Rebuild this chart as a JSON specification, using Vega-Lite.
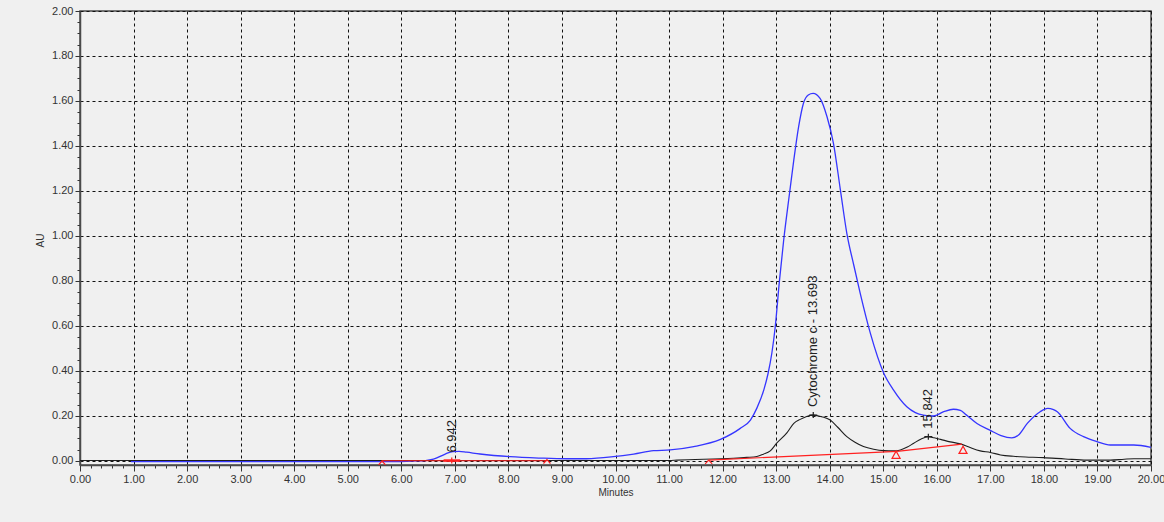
{
  "$schema": "https://vega.github.io/schema/vega-lite/v6.json",
  "width": 1071,
  "height": 454,
  "autosize": {"type": "none"},
  "padding": {"left": 80, "top": 11, "right": 13, "bottom": 57},
  "background": "#f0f0f0",
  "config": {
    "view": {"fill": "#f0f0f0", "stroke": "#4a4a4a", "strokeWidth": 1.5},
    "font": "Liberation Sans",
    "axis": {
      "labelFont": "Liberation Sans",
      "titleFont": "Liberation Sans",
      "labelColor": "#333333",
      "titleColor": "#333333",
      "titleFontWeight": "normal",
      "domainColor": "#4a4a4a",
      "domainWidth": 1.5,
      "tickColor": "#333333",
      "tickWidth": 1,
      "gridColor": "#111111",
      "gridDash": [3, 3],
      "gridWidth": 1
    }
  },
  "datasets": {
    "traces": [
      {"channel": "A", "t": 0.95, "au": -0.003},
      {"channel": "A", "t": 5.9, "au": -0.003},
      {"channel": "A", "t": 6.2, "au": 0.0},
      {"channel": "A", "t": 6.45, "au": 0.002},
      {"channel": "A", "t": 6.6, "au": 0.008},
      {"channel": "A", "t": 6.82, "au": 0.031},
      {"channel": "A", "t": 6.96, "au": 0.042},
      {"channel": "A", "t": 7.08, "au": 0.043},
      {"channel": "A", "t": 7.22, "au": 0.039},
      {"channel": "A", "t": 7.47, "au": 0.031},
      {"channel": "A", "t": 8.03, "au": 0.019},
      {"channel": "A", "t": 8.59, "au": 0.013},
      {"channel": "A", "t": 9.09, "au": 0.010},
      {"channel": "A", "t": 9.46, "au": 0.010},
      {"channel": "A", "t": 9.96, "au": 0.019},
      {"channel": "A", "t": 10.34, "au": 0.031},
      {"channel": "A", "t": 10.71, "au": 0.046},
      {"channel": "A", "t": 11.02, "au": 0.049},
      {"channel": "A", "t": 11.46, "au": 0.064},
      {"channel": "A", "t": 11.96, "au": 0.096},
      {"channel": "A", "t": 12.33, "au": 0.145},
      {"channel": "A", "t": 12.52, "au": 0.182},
      {"channel": "A", "t": 12.64, "au": 0.235},
      {"channel": "A", "t": 12.77, "au": 0.316},
      {"channel": "A", "t": 12.85, "au": 0.39},
      {"channel": "A", "t": 12.92, "au": 0.48},
      {"channel": "A", "t": 12.98, "au": 0.59},
      {"channel": "A", "t": 13.06, "au": 0.797},
      {"channel": "A", "t": 13.14, "au": 0.98},
      {"channel": "A", "t": 13.25, "au": 1.19},
      {"channel": "A", "t": 13.33, "au": 1.338},
      {"channel": "A", "t": 13.42, "au": 1.486},
      {"channel": "A", "t": 13.51, "au": 1.59},
      {"channel": "A", "t": 13.6, "au": 1.627},
      {"channel": "A", "t": 13.69, "au": 1.634},
      {"channel": "A", "t": 13.82, "au": 1.612},
      {"channel": "A", "t": 13.95, "au": 1.53},
      {"channel": "A", "t": 14.07, "au": 1.412},
      {"channel": "A", "t": 14.2, "au": 1.204},
      {"channel": "A", "t": 14.32, "au": 1.012},
      {"channel": "A", "t": 14.45, "au": 0.87},
      {"channel": "A", "t": 14.57, "au": 0.745},
      {"channel": "A", "t": 14.76, "au": 0.567},
      {"channel": "A", "t": 15.01, "au": 0.39},
      {"channel": "A", "t": 15.19, "au": 0.316},
      {"channel": "A", "t": 15.44, "au": 0.241},
      {"channel": "A", "t": 15.6, "au": 0.215},
      {"channel": "A", "t": 15.75, "au": 0.204},
      {"channel": "A", "t": 15.94, "au": 0.2},
      {"channel": "A", "t": 16.13, "au": 0.219},
      {"channel": "A", "t": 16.31, "au": 0.23},
      {"channel": "A", "t": 16.44, "au": 0.225},
      {"channel": "A", "t": 16.55, "au": 0.205},
      {"channel": "A", "t": 16.75, "au": 0.167},
      {"channel": "A", "t": 17.0, "au": 0.136},
      {"channel": "A", "t": 17.2, "au": 0.113},
      {"channel": "A", "t": 17.4, "au": 0.103},
      {"channel": "A", "t": 17.52, "au": 0.114},
      {"channel": "A", "t": 17.69, "au": 0.167},
      {"channel": "A", "t": 17.93, "au": 0.219},
      {"channel": "A", "t": 18.07, "au": 0.234},
      {"channel": "A", "t": 18.18, "au": 0.228},
      {"channel": "A", "t": 18.25, "au": 0.219},
      {"channel": "A", "t": 18.49, "au": 0.145},
      {"channel": "A", "t": 18.74, "au": 0.108},
      {"channel": "A", "t": 18.99, "au": 0.086},
      {"channel": "A", "t": 19.24, "au": 0.071},
      {"channel": "A", "t": 19.68, "au": 0.071},
      {"channel": "A", "t": 20.0, "au": 0.061},
      {"channel": "B", "t": 0.0, "au": 0.002},
      {"channel": "B", "t": 11.0, "au": 0.002},
      {"channel": "B", "t": 11.15, "au": 0.004},
      {"channel": "B", "t": 12.2, "au": 0.012},
      {"channel": "B", "t": 12.45, "au": 0.016},
      {"channel": "B", "t": 12.64, "au": 0.02},
      {"channel": "B", "t": 12.76, "au": 0.03},
      {"channel": "B", "t": 12.89, "au": 0.045},
      {"channel": "B", "t": 13.01, "au": 0.079},
      {"channel": "B", "t": 13.2, "au": 0.125},
      {"channel": "B", "t": 13.33, "au": 0.167},
      {"channel": "B", "t": 13.45, "au": 0.185},
      {"channel": "B", "t": 13.57, "au": 0.198},
      {"channel": "B", "t": 13.69, "au": 0.204},
      {"channel": "B", "t": 13.85, "au": 0.197},
      {"channel": "B", "t": 14.01, "au": 0.182},
      {"channel": "B", "t": 14.15, "au": 0.15},
      {"channel": "B", "t": 14.32, "au": 0.108},
      {"channel": "B", "t": 14.48, "au": 0.082},
      {"channel": "B", "t": 14.63, "au": 0.064},
      {"channel": "B", "t": 14.82, "au": 0.052},
      {"channel": "B", "t": 15.01, "au": 0.046},
      {"channel": "B", "t": 15.2, "au": 0.045},
      {"channel": "B", "t": 15.32, "au": 0.049},
      {"channel": "B", "t": 15.45, "au": 0.062},
      {"channel": "B", "t": 15.57, "au": 0.079},
      {"channel": "B", "t": 15.7, "au": 0.097},
      {"channel": "B", "t": 15.84, "au": 0.108},
      {"channel": "B", "t": 15.95, "au": 0.103},
      {"channel": "B", "t": 16.07, "au": 0.096},
      {"channel": "B", "t": 16.25, "au": 0.085},
      {"channel": "B", "t": 16.44, "au": 0.076},
      {"channel": "B", "t": 16.6, "au": 0.062},
      {"channel": "B", "t": 16.81, "au": 0.045},
      {"channel": "B", "t": 17.0, "au": 0.038},
      {"channel": "B", "t": 17.19, "au": 0.027},
      {"channel": "B", "t": 17.43, "au": 0.021},
      {"channel": "B", "t": 17.56, "au": 0.019},
      {"channel": "B", "t": 17.99, "au": 0.015},
      {"channel": "B", "t": 18.4, "au": 0.009},
      {"channel": "B", "t": 18.8, "au": 0.004},
      {"channel": "B", "t": 19.24, "au": 0.004},
      {"channel": "B", "t": 19.5, "au": 0.008},
      {"channel": "B", "t": 19.68, "au": 0.01},
      {"channel": "B", "t": 20.0, "au": 0.01}
    ],
    "baseline": [
      {"seg": 1, "t": 5.64, "au": 0.001},
      {"seg": 1, "t": 8.72, "au": 0.001},
      {"seg": 2, "t": 11.74, "au": 0.004},
      {"seg": 2, "t": 15.26, "au": 0.043},
      {"seg": 3, "t": 15.26, "au": 0.043},
      {"seg": 3, "t": 16.47, "au": 0.075}
    ],
    "apex": [
      {"t": 6.79, "au": 0.002},
      {"t": 7.1, "au": 0.002}
    ],
    "events": [
      {"kind": "split", "t": 5.64, "au": 0.0},
      {"kind": "split", "t": 8.72, "au": 0.006},
      {"kind": "split", "t": 11.74, "au": 0.004},
      {"kind": "drop", "t": 15.24, "au": 0.044},
      {"kind": "drop", "t": 16.49, "au": 0.066}
    ],
    "peaks": [
      {"rt": 6.942, "height": 0.002, "name": "6.942"},
      {"rt": 13.693, "height": 0.204, "name": "Cytochrome c - 13.693"},
      {"rt": 15.842, "height": 0.108, "name": "15.842"}
    ]
  },
  "layer": [
    {
      "data": {"name": "traces"},
      "transform": [{"filter": "datum.channel === 'A'"}],
      "mark": {"type": "line", "color": "#3535ff", "strokeWidth": 1.3, "interpolate": "monotone"},
      "encoding": {
        "x": {
          "field": "t", "type": "quantitative",
          "scale": {"domain": [0, 20], "nice": false, "zero": false},
          "axis": {
            "title": "Minutes",
            "titleFontSize": 10,
            "titleY": 27,
            "titleBaseline": "middle",
            "tickCount": 500,
            "values": [0,0.2,0.4,0.6,0.8,1,1.2,1.4,1.6,1.8,2,2.2,2.4,2.6,2.8,3,3.2,3.4,3.6,3.8,4,4.2,4.4,4.6,4.8,5,5.2,5.4,5.6,5.8,6,6.2,6.4,6.6,6.8,7,7.2,7.4,7.6,7.8,8,8.2,8.4,8.6,8.8,9,9.2,9.4,9.6,9.8,10,10.2,10.4,10.6,10.8,11,11.2,11.4,11.6,11.8,12,12.2,12.4,12.6,12.8,13,13.2,13.4,13.6,13.8,14,14.2,14.4,14.6,14.8,15,15.2,15.4,15.6,15.8,16,16.2,16.4,16.6,16.8,17,17.2,17.4,17.6,17.8,18,18.2,18.4,18.6,18.8,19,19.2,19.4,19.6,19.8,20],
            "labelExpr": "abs(datum.value - round(datum.value)) < 0.001 ? format(datum.value, '.2f') : ''",
            "labelFontSize": 11,
            "labelOverlap": false,
            "labelFlush": false,
            "labelPadding": 2,
            "tickSize": {"condition": {"test": "abs(datum.value - round(datum.value)) < 0.001", "value": 6}, "value": 3},
            "gridOpacity": {"condition": {"test": "abs(datum.value - round(datum.value)) < 0.001", "value": 1}, "value": 0}
          }
        },
        "y": {
          "field": "au", "type": "quantitative",
          "scale": {"domain": [-0.0178, 2.0], "nice": false, "zero": false},
          "axis": {
            "title": "AU",
            "titleFontSize": 10,
            "titleAngle": -90,
            "titleAlign": "center",
            "titleBaseline": "middle",
            "titleX": -40,
            "titleY": 229,
            "tickCount": 500,
            "values": [0,0.05,0.1,0.15,0.2,0.25,0.3,0.35,0.4,0.45,0.5,0.55,0.6,0.65,0.7,0.75,0.8,0.85,0.9,0.95,1,1.05,1.1,1.15,1.2,1.25,1.3,1.35,1.4,1.45,1.5,1.55,1.6,1.65,1.7,1.75,1.8,1.85,1.9,1.95,2],
            "labelExpr": "abs(datum.value * 5 - round(datum.value * 5)) < 0.001 ? format(datum.value, '.2f') : ''",
            "labelFontSize": 11,
            "labelOverlap": false,
            "labelFlush": false,
            "labelPadding": 2,
            "tickSize": {"condition": {"test": "abs(datum.value * 5 - round(datum.value * 5)) < 0.001", "value": 5}, "value": 3},
            "gridOpacity": {"condition": {"test": "abs(datum.value * 5 - round(datum.value * 5)) < 0.001", "value": 1}, "value": 0}
          }
        }
      }
    },
    {
      "data": {"name": "traces"},
      "transform": [{"filter": "datum.channel === 'B'"}],
      "mark": {"type": "line", "color": "#1e1e1e", "strokeWidth": 1.1, "interpolate": "monotone"},
      "encoding": {
        "x": {"field": "t", "type": "quantitative"},
        "y": {"field": "au", "type": "quantitative"}
      }
    },
    {
      "data": {"name": "baseline"},
      "mark": {"type": "line", "color": "#ff2020", "strokeWidth": 1.2},
      "encoding": {
        "x": {"field": "t", "type": "quantitative"},
        "y": {"field": "au", "type": "quantitative"},
        "detail": {"field": "seg", "type": "nominal"}
      }
    },
    {
      "data": {"name": "apex"},
      "mark": {"type": "line", "color": "#ff2020", "strokeWidth": 2.5},
      "encoding": {
        "x": {"field": "t", "type": "quantitative"},
        "y": {"field": "au", "type": "quantitative"}
      }
    },
    {
      "data": {"name": "events"},
      "transform": [{"filter": "datum.kind === 'split'"}],
      "mark": {"type": "point", "shape": "M-1,1.1L0,0L1,1.1", "filled": false, "stroke": "#ff2020", "strokeWidth": 1.2, "size": 49, "opacity": 1},
      "encoding": {
        "x": {"field": "t", "type": "quantitative"},
        "y": {"field": "au", "type": "quantitative"}
      }
    },
    {
      "data": {"name": "events"},
      "transform": [{"filter": "datum.kind === 'drop'"}],
      "mark": {"type": "point", "shape": "M-1,1.8L0,0L1,1.8Z", "filled": false, "stroke": "#ff2020", "strokeWidth": 1.2, "size": 64, "opacity": 1},
      "encoding": {
        "x": {"field": "t", "type": "quantitative"},
        "y": {"field": "au", "type": "quantitative"}
      }
    },
    {
      "data": {"name": "peaks"},
      "mark": {"type": "point", "shape": "M-1,0L1,0M0,-0.75L0,0.75", "filled": false, "strokeWidth": 1.2, "size": 64, "opacity": 1},
      "encoding": {
        "x": {"field": "rt", "type": "quantitative"},
        "y": {"field": "height", "type": "quantitative"},
        "stroke": {"condition": {"test": "datum.rt < 10", "value": "#ff2020"}, "value": "#1e1e1e"}
      }
    },
    {
      "data": {"name": "peaks"},
      "mark": {"type": "text", "angle": 270, "align": "left", "baseline": "middle", "dx": 8, "font": "Liberation Sans", "fontSize": 13, "color": "#222222"},
      "encoding": {
        "x": {"field": "rt", "type": "quantitative"},
        "y": {"field": "height", "type": "quantitative"},
        "text": {"field": "name", "type": "nominal"}
      }
    }
  ]
}
